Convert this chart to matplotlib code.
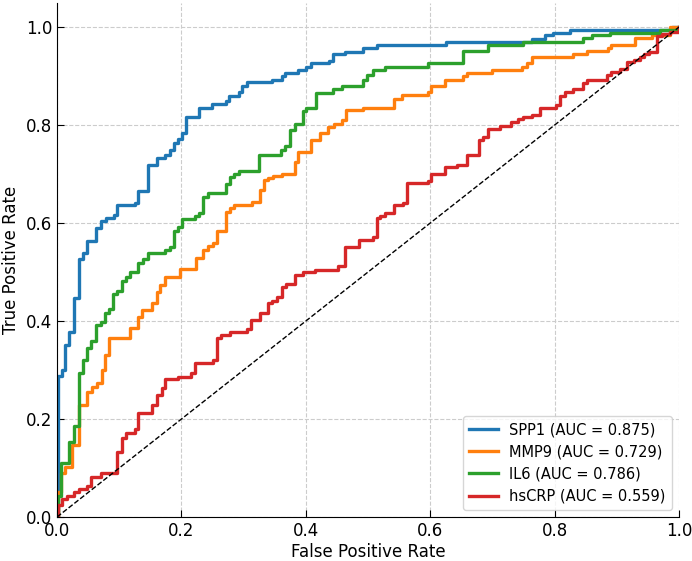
import matplotlib
matplotlib.use("Agg")
import matplotlib.pyplot as plt

# ROC step points: fpr where the curve jumps, tpr after the jump
spp1_fpr = [0.0, 0.002, 0.008, 0.013, 0.020, 0.027, 0.035, 0.041, 0.048, 0.063, 0.070,
            0.078, 0.091, 0.096, 0.125, 0.131, 0.146, 0.161, 0.174, 0.181, 0.188, 0.195,
            0.201, 0.208, 0.228, 0.249, 0.271, 0.277, 0.292, 0.298, 0.305, 0.346, 0.361,
            0.367, 0.388, 0.401, 0.409, 0.437, 0.444, 0.463, 0.492, 0.514, 0.625, 0.763,
            0.785, 0.798, 0.825, 0.988, 1.0]
spp1_tpr = [0.0, 0.288, 0.300, 0.351, 0.378, 0.448, 0.526, 0.538, 0.564, 0.589, 0.604,
            0.610, 0.616, 0.637, 0.641, 0.666, 0.718, 0.732, 0.739, 0.750, 0.764, 0.771,
            0.783, 0.816, 0.834, 0.842, 0.849, 0.859, 0.868, 0.880, 0.887, 0.893, 0.900,
            0.907, 0.912, 0.918, 0.926, 0.931, 0.946, 0.950, 0.957, 0.963, 0.969, 0.976,
            0.984, 0.988, 0.994, 1.0, 1.0]

mmp9_fpr = [0.0, 0.002, 0.006, 0.013, 0.024, 0.036, 0.048, 0.056, 0.064, 0.072, 0.077,
            0.084, 0.118, 0.131, 0.137, 0.152, 0.161, 0.166, 0.174, 0.198, 0.224, 0.235,
            0.243, 0.250, 0.257, 0.271, 0.278, 0.285, 0.313, 0.326, 0.333, 0.340, 0.348,
            0.361, 0.382, 0.388, 0.408, 0.423, 0.436, 0.446, 0.458, 0.465, 0.492, 0.541,
            0.554, 0.597, 0.602, 0.624, 0.653, 0.659, 0.700, 0.747, 0.755, 0.763, 0.830,
            0.852, 0.886, 0.891, 0.929, 0.956, 0.986, 1.0]
mmp9_tpr = [0.0, 0.052, 0.089, 0.103, 0.147, 0.229, 0.256, 0.266, 0.274, 0.301, 0.331,
            0.365, 0.385, 0.409, 0.422, 0.436, 0.460, 0.473, 0.490, 0.506, 0.528, 0.546,
            0.553, 0.560, 0.584, 0.623, 0.630, 0.637, 0.643, 0.667, 0.688, 0.691, 0.696,
            0.701, 0.725, 0.746, 0.769, 0.784, 0.797, 0.803, 0.811, 0.831, 0.834, 0.854,
            0.861, 0.868, 0.880, 0.893, 0.900, 0.907, 0.912, 0.918, 0.926, 0.938, 0.945,
            0.952, 0.957, 0.963, 0.977, 0.984, 1.0, 1.0]

il6_fpr = [0.0, 0.002, 0.007, 0.020, 0.028, 0.035, 0.041, 0.048, 0.055, 0.063, 0.070,
           0.077, 0.084, 0.090, 0.096, 0.105, 0.111, 0.118, 0.131, 0.139, 0.146, 0.174,
           0.181, 0.188, 0.195, 0.201, 0.222, 0.228, 0.235, 0.242, 0.271, 0.278, 0.285,
           0.292, 0.325, 0.360, 0.367, 0.375, 0.382, 0.396, 0.401, 0.416, 0.444, 0.458,
           0.492, 0.498, 0.508, 0.527, 0.597, 0.652, 0.693, 0.750, 0.846, 0.860, 0.889,
           0.969, 1.0]
il6_tpr = [0.0, 0.043, 0.110, 0.154, 0.186, 0.293, 0.320, 0.344, 0.360, 0.392, 0.399,
           0.417, 0.424, 0.455, 0.462, 0.482, 0.490, 0.501, 0.519, 0.526, 0.538, 0.545,
           0.552, 0.584, 0.591, 0.608, 0.614, 0.621, 0.654, 0.662, 0.680, 0.693, 0.700,
           0.707, 0.739, 0.750, 0.757, 0.790, 0.803, 0.829, 0.834, 0.866, 0.873, 0.880,
           0.893, 0.902, 0.912, 0.919, 0.926, 0.952, 0.963, 0.970, 0.977, 0.984, 0.988,
           0.994, 1.0]

hscrp_fpr = [0.0, 0.002, 0.008, 0.016, 0.028, 0.035, 0.048, 0.055, 0.070, 0.096, 0.105,
             0.111, 0.125, 0.131, 0.152, 0.161, 0.168, 0.174, 0.195, 0.215, 0.222, 0.250,
             0.257, 0.264, 0.278, 0.305, 0.312, 0.326, 0.340, 0.346, 0.353, 0.361, 0.368,
             0.383, 0.396, 0.415, 0.452, 0.463, 0.485, 0.508, 0.514, 0.519, 0.528, 0.541,
             0.557, 0.562, 0.597, 0.602, 0.624, 0.643, 0.659, 0.679, 0.685, 0.693, 0.713,
             0.730, 0.741, 0.750, 0.763, 0.777, 0.803, 0.809, 0.817, 0.830, 0.846, 0.852,
             0.884, 0.891, 0.905, 0.916, 0.927, 0.937, 0.944, 0.951, 0.964, 0.972, 0.986,
             1.0]
hscrp_tpr = [0.0, 0.024, 0.036, 0.043, 0.052, 0.057, 0.063, 0.081, 0.089, 0.133, 0.161,
             0.171, 0.179, 0.212, 0.229, 0.249, 0.263, 0.281, 0.286, 0.293, 0.314, 0.320,
             0.365, 0.371, 0.378, 0.383, 0.402, 0.417, 0.436, 0.441, 0.450, 0.470, 0.476,
             0.494, 0.501, 0.505, 0.512, 0.552, 0.565, 0.572, 0.610, 0.615, 0.621, 0.636,
             0.641, 0.681, 0.686, 0.700, 0.714, 0.718, 0.739, 0.769, 0.776, 0.791, 0.798,
             0.807, 0.812, 0.816, 0.820, 0.834, 0.841, 0.859, 0.868, 0.873, 0.886, 0.893,
             0.902, 0.909, 0.914, 0.929, 0.933, 0.938, 0.945, 0.950, 0.982, 0.986, 0.990,
             1.0]

names = ["SPP1", "MMP9", "IL6", "hsCRP"]
aucs = [0.875, 0.729, 0.786, 0.559]
colors = ["#1f77b4", "#ff7f0e", "#2ca02c", "#d62728"]
curves = [(spp1_fpr, spp1_tpr), (mmp9_fpr, mmp9_tpr), (il6_fpr, il6_tpr), (hscrp_fpr, hscrp_tpr)]

fig = plt.figure(figsize=(6.92, 5.61), dpi=100)
ax = fig.add_axes([0.0824, 0.0784, 0.8988, 0.917])

for (fx, ty), name, auc, c in zip(curves, names, aucs, colors):
    ax.plot(fx, ty, drawstyle="steps-post", color=c, linewidth=2.4,
            label=f"{name} (AUC = {auc:.3f})")

ax.plot([0, 1], [0, 1], "k--", linewidth=1)

ax.set_xlim(0, 1)
ax.set_ylim(0, 1.05)
ax.set_xticks([0.0, 0.2, 0.4, 0.6, 0.8, 1.0])
ax.set_yticks([0.0, 0.2, 0.4, 0.6, 0.8, 1.0])
ax.tick_params(direction="in", labelsize=12, length=5)
ax.spines["top"].set_visible(False)
ax.spines["right"].set_visible(False)
ax.grid(True, linestyle="--", color="#cccccc", linewidth=0.8)
ax.set_axisbelow(True)

ax.set_xlabel("False Positive Rate", fontsize=12, labelpad=2)
ax.set_ylabel("True Positive Rate", fontsize=12, labelpad=4)
ax.legend(loc="lower right", fontsize=10.5)

plt.savefig("out.png", dpi=100)
